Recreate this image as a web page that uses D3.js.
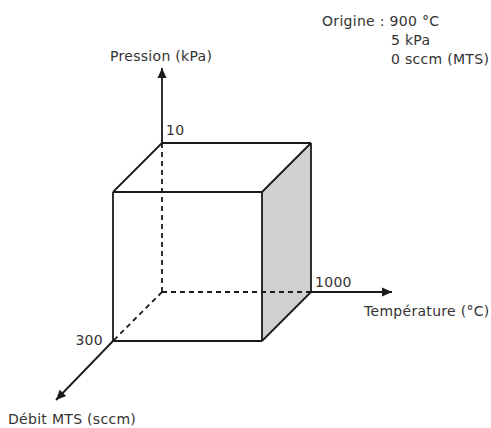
<!DOCTYPE html>
<html><head><meta charset="utf-8">
<script src="https://cdn.jsdelivr.net/npm/d3@7"></script>
<style>html,body{margin:0;padding:0;background:#fff;}svg{display:block;}</style>
</head><body>
<script>
// ---- data ----
const axisNames = ["Température (°C)", "Pression (kPa)", "Débit MTS (sccm)"];
const originValues = [900, 5, 0];
const maxValues = [1000, 10, 300];
const maxLabels = ["1000", "10", "300"];
const originNote = ["Origine : ", "900 °C", "5 kPa", "0 sccm (MTS)"];

// ---- layout ----
const W = 491, H = 428;
const ox = 162, oy = 292;       // projected origin
const size = 149;               // edge length in px (T, P)
const depth = 49;               // oblique offset for flow axis

const sT = d3.scaleLinear().domain([originValues[0], maxValues[0]]).range([0, size]);
const sP = d3.scaleLinear().domain([originValues[1], maxValues[1]]).range([0, size]);
const sF = d3.scaleLinear().domain([originValues[2], maxValues[2]]).range([0, depth]);

function proj(t, p, f) {
  return [ox + sT(t) - sF(f), oy - sP(p) + sF(f)];
}

const svg = d3.select("body").append("svg").attr("width", W).attr("height", H);
const ink = "#1a1a1a";
const font = "'DejaVu Sans', Verdana, sans-serif";

const [t0, p0, f0] = originValues;
const [t1, p1, f1] = maxValues;

// shaded right face (T = max)
const face = [proj(t1, p1, f1), proj(t1, p1, f0), proj(t1, p0, f0), proj(t1, p0, f1)];
svg.append("polygon").attr("points", face.map(d => d.join(",")).join(" "))
  .attr("fill", "#d0d0d0").attr("stroke", "none");

const line = (a, b, dashed) => svg.append("line")
  .attr("x1", a[0]).attr("y1", a[1]).attr("x2", b[0]).attr("y2", b[1])
  .attr("stroke", ink).attr("stroke-width", 1.8)
  .attr("stroke-dasharray", dashed ? "5,4" : null)
  .attr("stroke-linecap", "butt");

// hidden edges
line(proj(t0, p0, f0), proj(t0, p1, f0), true);
line(proj(t0, p0, f0), proj(t1, p0, f0), true);
line(proj(t0, p0, f0), proj(t0, p0, f1), true);

// visible edges
const edges = [
  [[t0,p1,f0],[t1,p1,f0]],
  [[t0,p1,f0],[t0,p1,f1]],
  [[t1,p1,f0],[t1,p1,f1]],
  [[t1,p1,f0],[t1,p0,f0]],
  [[t1,p0,f0],[t1,p0,f1]],
  [[t0,p1,f1],[t1,p1,f1]],
  [[t0,p0,f1],[t1,p0,f1]],
  [[t0,p1,f1],[t0,p0,f1]],
  [[t1,p1,f1],[t1,p0,f1]]
];
edges.forEach(e => line(proj(...e[0]), proj(...e[1]), false));

// axes beyond the cube with arrows
function arrow(from, to) {
  line(from, to, false);
  const ang = Math.atan2(to[1] - from[1], to[0] - from[0]);
  const L = 10, Wd = 4.5;
  const bx = to[0] - L * Math.cos(ang), by = to[1] - L * Math.sin(ang);
  const px = -Math.sin(ang) * Wd, py = Math.cos(ang) * Wd;
  svg.append("polygon")
    .attr("points", [[to[0], to[1]], [bx + px, by + py], [bx - px, by - py]].map(d => d.join(",")).join(" "))
    .attr("fill", ink);
}
arrow(proj(t1, p0, f0), [proj(t1, p0, f0)[0] + 81, proj(t1, p0, f0)[1]]);
arrow(proj(t0, p1, f0), [proj(t0, p1, f0)[0], proj(t0, p1, f0)[1] - 75]);
const fEnd = proj(t0, p0, f1);
arrow(fEnd, [fEnd[0] - 57, fEnd[1] + 59]);

const text = (x, y, s, anchor) => svg.append("text")
  .attr("x", x).attr("y", y).text(s)
  .attr("font-family", font).attr("font-size", 14)
  .attr("letter-spacing", 0.3)
  .attr("fill", "#333").attr("text-anchor", anchor || "start");

// tick labels
const tPos = proj(t1, p0, f0), pPos = proj(t0, p1, f0), fPos = proj(t0, p0, f1);
text(tPos[0] + 4, tPos[1] - 5, maxLabels[0]);
text(pPos[0] + 4, pPos[1] - 8, maxLabels[1]);
text(fPos[0] - 10, fPos[1] + 4, maxLabels[2], "end");

// axis names
text(364, 316, axisNames[0]);
text(110, 61, axisNames[1]);
text(8, 424, axisNames[2]);

// origin note
text(322, 26, originNote[0] + originNote[1]);
text(391, 45, originNote[2]);
text(391, 64, originNote[3]);
</script>
</body></html>
